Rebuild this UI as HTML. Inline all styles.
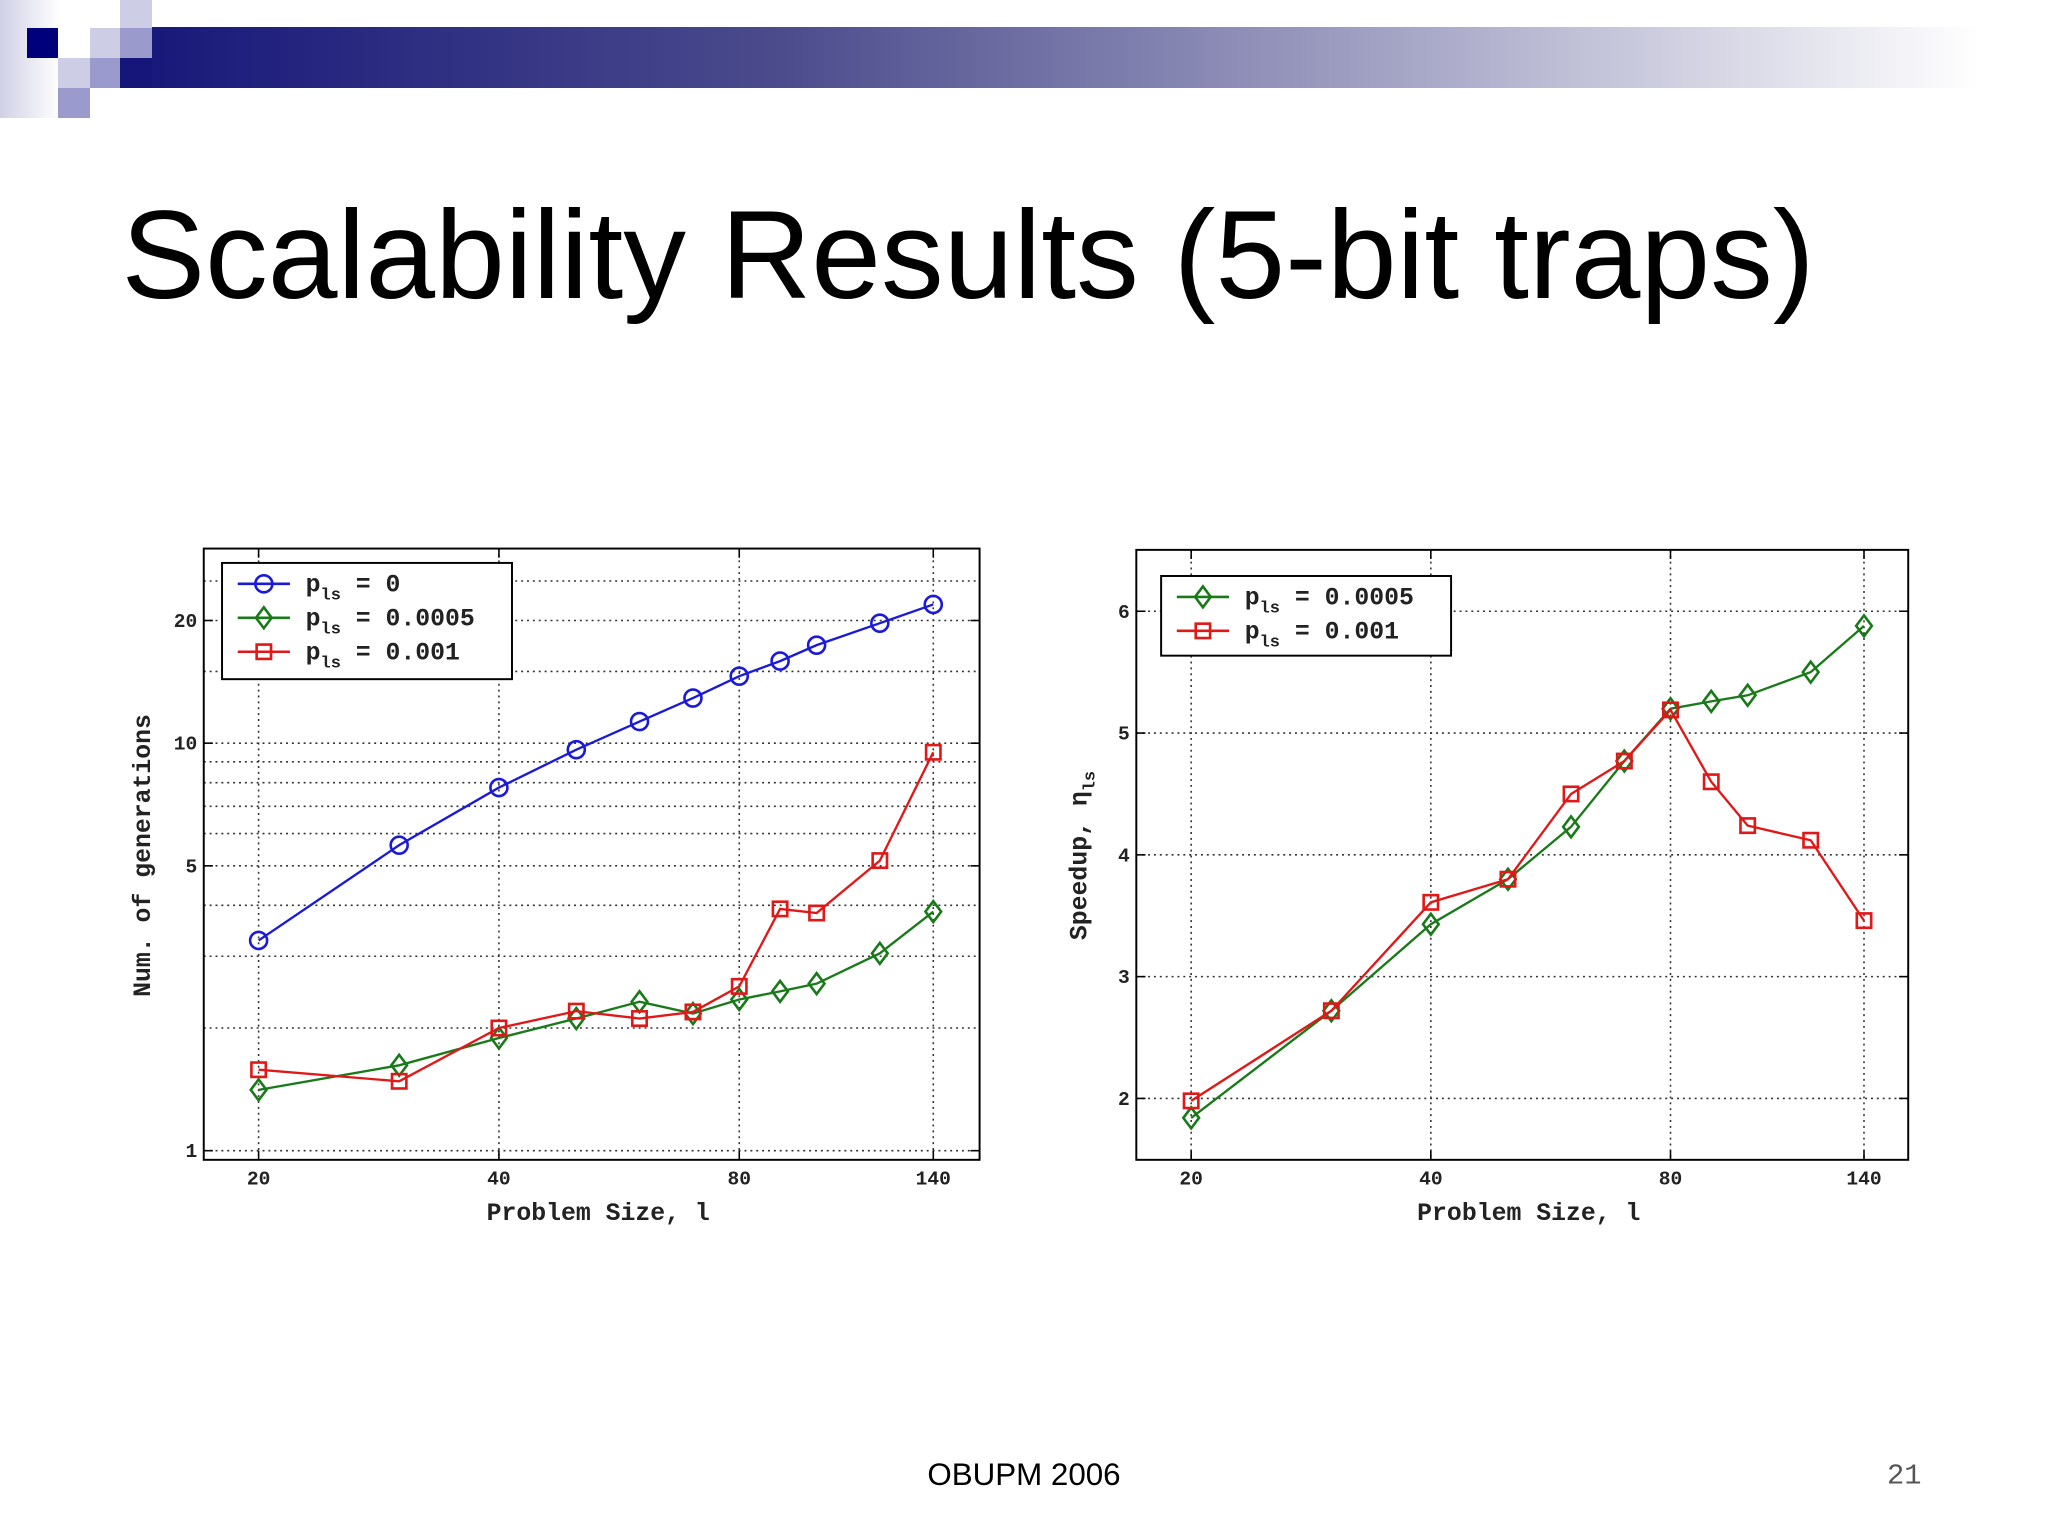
<!DOCTYPE html>
<html><head><meta charset="utf-8"><style>
html,body{margin:0;padding:0;background:#fff;}
svg{display:block;}
.mono{font-family:"Liberation Mono",monospace;font-weight:bold;fill:#222;}
</style></head><body>
<svg id="root" width="2048" height="1534" viewBox="0 0 2048 1534" xmlns="http://www.w3.org/2000/svg">
<defs>
<linearGradient id="barg" x1="0" x2="1" y1="0" y2="0">
<stop offset="0" stop-color="#16167a"/><stop offset="0.35" stop-color="#4a4a8c"/><stop offset="0.7" stop-color="#a8a8c8"/><stop offset="1" stop-color="#ffffff"/></linearGradient>
<linearGradient id="fadeg" x1="0" x2="1"><stop offset="0" stop-color="#d0d0e6"/><stop offset="1" stop-color="#ffffff"/></linearGradient>
</defs>
<g>
<rect x="0" y="0" width="60" height="118" fill="url(#fadeg)"/>
<rect x="120" y="27" width="1860" height="61" fill="url(#barg)"/>
<rect x="120" y="0" width="32" height="28" fill="#cdcde6"/>
<rect x="27" y="28" width="31" height="30" fill="#00007a"/>
<rect x="90" y="28" width="30" height="30" fill="#cdcde6"/>
<rect x="120" y="28" width="32" height="30" fill="#9a9acc"/>
<rect x="58" y="58" width="32" height="30" fill="#cdcde6"/>
<rect x="90" y="58" width="30" height="30" fill="#9a9acc"/>
<rect x="120" y="58" width="32" height="30" fill="#16167a"/>
<rect x="58" y="88" width="32" height="30" fill="#9a9acc"/>
</g>
<g transform="scale(1.3061)">
<text x="93" y="228" font-family="Liberation Sans, sans-serif" font-size="96" fill="#000">Scalability Results (5-bit traps)</text>
<text x="784" y="1137" text-anchor="middle" font-family="Liberation Sans, sans-serif" font-size="24" fill="#000">OBUPM 2006</text>
<text x="1458" y="1136" text-anchor="middle" font-family="Liberation Mono, monospace" font-size="22" fill="#555">21</text>
<g id="left"></g>
<g id="right"></g>
</g>
</svg>
<script>
const sizes=[20,30,40,50,60,70,80,90,100,120,140];
const genP0=[3.28,5.62,7.78,9.64,11.3,12.9,14.6,15.9,17.4,19.7,21.9];
const genP0005=[1.41,1.62,1.89,2.11,2.32,2.17,2.35,2.46,2.57,3.05,3.86];
const genP001=[1.58,1.48,2.0,2.2,2.11,2.19,2.53,3.92,3.83,5.15,9.5];
const spdP0005=[1.84,2.72,3.43,3.80,4.23,4.77,5.20,5.26,5.31,5.50,5.88];
const spdP001=[1.98,2.72,3.61,3.80,4.50,4.77,5.19,4.60,4.24,4.12,3.46];
const xTicks=[20,40,80,140];
const leftYTicks=[1,5,10,20];
const leftYGrid=[1,2,3,4,5,6,7,8,9,10,15,20,25];
const rightYTicks=[2,3,4,5,6];
const NS='http://www.w3.org/2000/svg';
function mk(p,tag,a){const e=document.createElementNS(NS,tag);for(const k in a)e.setAttribute(k,a[k]);p.appendChild(e);return e;}
function marker(g,type,x,y,c){
  let m;
  if(type==='o')m=mk(g,'circle',{cx:x,cy:y,r:6.5,fill:'none',stroke:c,'stroke-width':2});
  else if(type==='d')m=mk(g,'polygon',{points:`${x},${y-8} ${x+6},${y} ${x},${y+8} ${x-6},${y}`,fill:'none',stroke:c,'stroke-width':2});
  else m=mk(g,'rect',{x:x-5.5,y:y-5.5,width:11,height:11,fill:'none',stroke:c,'stroke-width':2});
  return m;
}
function chart(g,box,xs,ys,yTicks,yGrid,series,ylab,legend,lbox){
  const [L,T,R,B]=box;
  mk(g,'rect',{x:L,y:T,width:R-L,height:B-T,fill:'#fff',stroke:'none'});
  for(const v of yGrid){const y=ys(v);if(y<T||y>B)continue;
    const ln=mk(g,'line',{x1:L,x2:R,y1:y,y2:y,stroke:'#333','stroke-width':1.2,'stroke-dasharray':'1.5 3'});
    }
  for(const v of xTicks){const x=xs(v);
    const ln=mk(g,'line',{x1:x,x2:x,y1:T,y2:B,stroke:'#333','stroke-width':1.2,'stroke-dasharray':'1.5 3'});
    
    mk(g,'line',{x1:x,x2:x,y1:B,y2:B-7,stroke:'#000','stroke-width':1.2});
    mk(g,'line',{x1:x,x2:x,y1:T,y2:T+7,stroke:'#000','stroke-width':1.2});
    const t=mk(g,'text',{x:x,y:B+19,'text-anchor':'middle','font-size':15,class:'mono'});t.textContent=v;
    }
  for(const v of yTicks){const y=ys(v);
    mk(g,'line',{x1:L,x2:L+7,y1:y,y2:y,stroke:'#000','stroke-width':1.2});
    mk(g,'line',{x1:R,x2:R-7,y1:y,y2:y,stroke:'#000','stroke-width':1.2});
    const t=mk(g,'text',{x:L-5,y:y+5,'text-anchor':'end','font-size':15,class:'mono'});t.textContent=v;
    }
  for(const s of series){
    const pts=sizes.map((x,i)=>xs(x)+','+ys(s.v[i])).join(' ');
    const pl=mk(g,'polyline',{points:pts,fill:'none',stroke:s.c,'stroke-width':1.8});
    
    sizes.forEach((x,i)=>{const m=marker(g,s.m,xs(x),ys(s.v[i]),s.c);
      });
  }
  const fr=mk(g,'rect',{x:L,y:T,width:R-L,height:B-T,fill:'none',stroke:'#000','stroke-width':1.5});
  
  const xl=mk(g,'text',{x:(L+R)/2+5,y:B+46,'text-anchor':'middle','font-size':19,class:'mono'});xl.textContent='Problem Size, l';
  
  const yl=mk(g,'text',{x:0,y:0,'text-anchor':'middle','font-size':19,class:'mono',transform:`translate(${ylab.x},${ylab.y}) rotate(-90)`});
  yl.innerHTML=ylab.t;
  
  const lg=mk(g,'g',{});
  mk(lg,'rect',{x:lbox[0],y:lbox[1],width:lbox[2],height:lbox[3],fill:'#fff',stroke:'#000','stroke-width':1.5});
  legend.forEach((e,i)=>{const y=lbox[1]+16+i*26;const x0=lbox[0]+12;
    const en=mk(lg,'g',{});
    mk(en,'line',{x1:x0,x2:x0+40,y1:y,y2:y,stroke:e.c,'stroke-width':2});
    marker(en,e.m,x0+20,y,e.c);
    const t=mk(en,'text',{x:x0+52,y:y+6,'font-size':19,class:'mono'});
    t.innerHTML='p<tspan font-size="13" dy="6">ls</tspan><tspan dy="-6">'+e.t+'</tspan>';});
}
const lxs=v=>198+184*Math.log2(v/20);
const lys=v=>881-312*Math.log10(v);
chart(document.getElementById('left'),[156,420,750,888],lxs,lys,leftYTicks,leftYGrid,
 [{v:genP0,c:'#1a1ad8',m:'o',n:'p0'},{v:genP0005,c:'#1a7a1a',m:'d',n:'p0005'},{v:genP001,c:'#e01818',m:'s',n:'p001'}],
 {x:115,y:655,t:'Num. of generations'},
 [{c:'#1a1ad8',m:'o',t:' = 0'},{c:'#1a7a1a',m:'d',t:' = 0.0005'},{c:'#e01818',m:'s',t:' = 0.001'}],[170,431,222,89]);
const rxs=v=>912+183.5*Math.log2(v/20);
const rys=v=>841-93.25*(v-2);
chart(document.getElementById('right'),[870,421,1461,888],rxs,rys,rightYTicks,rightYTicks,
 [{v:spdP0005,c:'#1a7a1a',m:'d',n:'p0005'},{v:spdP001,c:'#e01818',m:'s',n:'p001'}],
 {x:832,y:655,t:'Speedup, η<tspan font-size="13" dy="6">ls</tspan>'},
 [{c:'#1a7a1a',m:'d',t:' = 0.0005'},{c:'#e01818',m:'s',t:' = 0.001'}],[889,441,222,61]);
</script>
</body></html>
